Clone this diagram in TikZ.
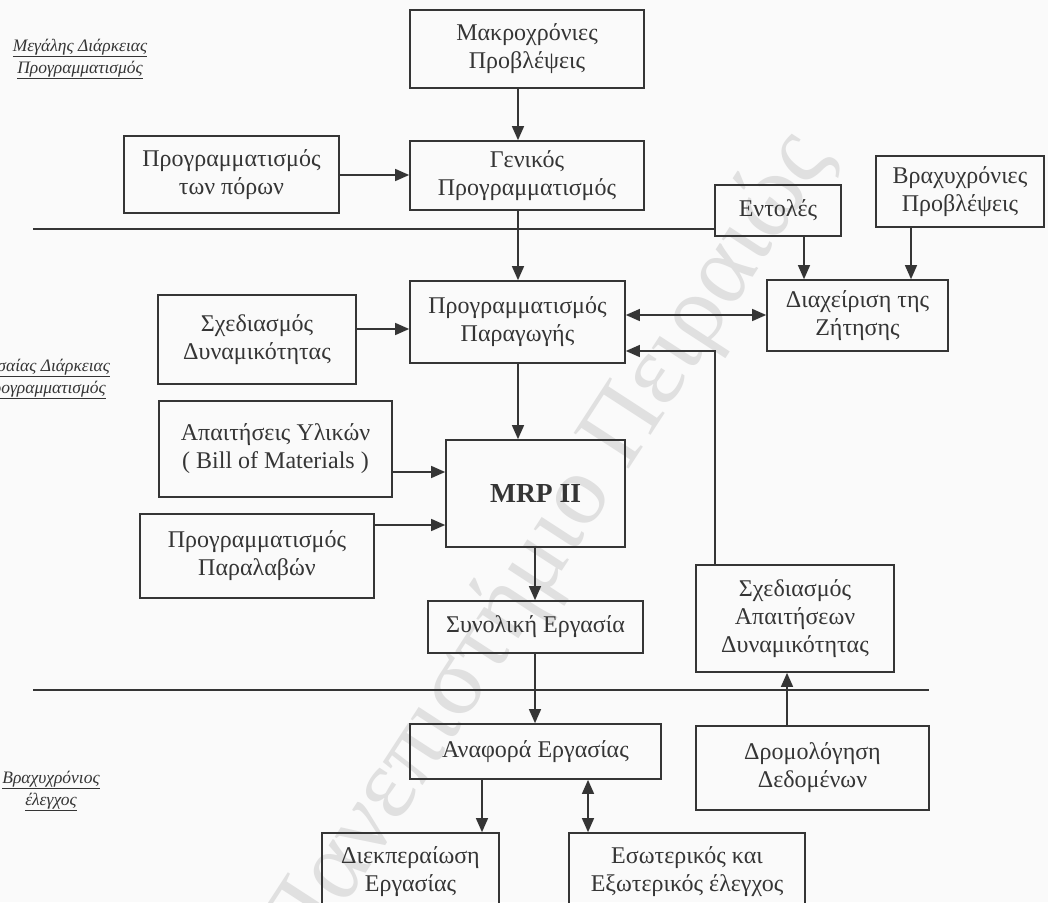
\documentclass[tikz,border=0pt]{standalone}
\usepackage{fontspec}
\setmainfont{Liberation Serif}
\usetikzlibrary{arrows.meta}
\definecolor{ink}{HTML}{353535}
\definecolor{paper}{HTML}{FAFAFA}
\definecolor{wmark}{HTML}{E0E0E0}
\begin{document}
\begin{tikzpicture}[x=1pt,y=-1pt,
  box/.style={draw=ink, line width=1.7pt, text=ink, align=center, inner sep=0pt,
    line join=miter, font=\fontsize{24}{28}\selectfont},
  arr/.style={draw=ink, line width=1.4pt, -{Triangle[length=14pt,width=12pt]}},
  arrboth/.style={draw=ink, line width=1.4pt, {Triangle[length=14pt,width=12pt]}-{Triangle[length=14pt,width=12pt]}},
  sepline/.style={draw=ink, line width=1.7pt},
  lab/.style={text=ink, align=center, inner sep=0pt, font=\fontsize{17.5}{22}\selectfont\itshape},
  wm/.style={text=wmark, inner sep=0pt, font=\fontsize{100}{100}\selectfont}]
\clip (0,0) rectangle (1048,902);
\fill[paper] (0,0) rectangle (1048,902);

% watermark
\node[wm, rotate=57] (wmk) at (548,548) {Πανεπιστήμιο Πειραιώς};

% left level labels
\node[lab] (l1) at (80,59) {\underline{Μεγάλης Διάρκειας}\\\underline{Προγραμματισμός}};
\node[lab] (l2) at (43,379) {\underline{Μεσαίας Διάρκειας}\\\underline{Προγραμματισμός}};
\node[lab] (l3) at (51,791) {\underline{Βραχυχρόνιος}\\\underline{έλεγχος}};

% boxes
\node[box, minimum width=234pt, minimum height=78pt] (mak) at (527,49) {Μακροχρόνιες\\Προβλέψεις};
\node[box, minimum width=234pt, minimum height=69pt] (gen) at (527,175.5) {Γενικός\\Προγραμματισμός};
\node[box, minimum width=215pt, minimum height=77pt] (por) at (231.5,174.5) {Προγραμματισμός\\των πόρων};
\node[box, minimum width=126pt, minimum height=51pt] (ent) at (778,210.5) {Εντολές};
\node[box, minimum width=168pt, minimum height=71pt] (bra) at (960,191.5) {Βραχυχρόνιες\\Προβλέψεις};
\node[box, minimum width=215pt, minimum height=82pt] (pp) at (517.5,322) {Προγραμματισμός\\Παραγωγής};
\node[box, minimum width=198pt, minimum height=89pt] (sd) at (257,339.5) {Σχεδιασμός\\Δυναμικότητας};
\node[box, minimum width=181pt, minimum height=71pt] (dz) at (857.5,315.5) {Διαχείριση της\\Ζήτησης};
\node[box, minimum width=233pt, minimum height=96pt] (ay) at (275.5,449) {Απαιτήσεις Υλικών\\( Bill of Materials )};
\node[box, minimum width=179pt, minimum height=107pt, font=\fontsize{27.5}{30}\selectfont\bfseries] (mrp) at (535.5,493.5) {MRP II};
\node[box, minimum width=234pt, minimum height=84pt] (pl) at (257,556) {Προγραμματισμός\\Παραλαβών};
\node[box, minimum width=215pt, minimum height=52pt] (se) at (535.5,627) {Συνολική Εργασία};
\node[box, minimum width=198pt, minimum height=107pt] (sad) at (795,618.5) {Σχεδιασμός\\Απαιτήσεων\\Δυναμικότητας};
\node[box, minimum width=251pt, minimum height=55pt] (ae) at (535.5,751.5) {Αναφορά Εργασίας};
\node[box, minimum width=233pt, minimum height=84pt] (dd) at (812.5,768) {Δρομολόγηση\\Δεδομένων};
\node[box, minimum width=177pt, minimum height=77pt] (de) at (410.5,871.5) {Διεκπεραίωση\\Εργασίας};
\node[box, minimum width=236pt, minimum height=77pt] (ee) at (687,871.5) {Εσωτερικός και\\Εξωτερικός έλεγχος};

% separator lines
\coordinate (s1a) at (33,229);
\coordinate (s2a) at (33,690);
\coordinate (s2b) at (929,690);
\draw[sepline] (s1a) -- (s1a -| ent.west);
\draw[sepline] (s2a) -- (s2b);

% guide coordinates
\coordinate (cA) at (518,0);
\coordinate (cE) at (804,0);
\coordinate (cB) at (911,0);
\coordinate (cM) at (535,0);
\coordinate (cS) at (715,0);
\coordinate (cD) at (787,0);
\coordinate (cF) at (482,0);
\coordinate (cG) at (588,0);
\coordinate (r1) at (0,175);
\coordinate (r2) at (0,315);
\coordinate (r3) at (0,329);
\coordinate (r4) at (0,472);
\coordinate (r5) at (0,525);
\coordinate (r6) at (0,351);

% connectors
\draw[arr] (mak.south -| cA) -- (gen.north -| cA);
\draw[arr] (por.east |- r1) -- (gen.west |- r1);
\draw[arr] (gen.south -| cA) -- (pp.north -| cA);
\draw[arr] (ent.south -| cE) -- (dz.north -| cE);
\draw[arr] (bra.south -| cB) -- (dz.north -| cB);
\draw[arrboth] (pp.east |- r2) -- (dz.west |- r2);
\draw[arr] (sd.east |- r3) -- (pp.west |- r3);
\draw[arr] (pp.south -| cA) -- (mrp.north -| cA);
\draw[arr] (ay.east |- r4) -- (mrp.west |- r4);
\draw[arr] (pl.east |- r5) -- (mrp.west |- r5);
\draw[arr] (mrp.south -| cM) -- (se.north -| cM);
\draw[arr] (se.south -| cM) -- (ae.north -| cM);
\draw[arr, line join=miter] (sad.north -| cS) -- (cS |- r6) -- (pp.east |- r6);
\draw[arr] (dd.north -| cD) -- (sad.south -| cD);
\draw[arr] (ae.south -| cF) -- (de.north -| cF);
\draw[arrboth] (ae.south -| cG) -- (ee.north -| cG);
\end{tikzpicture}
\end{document}
